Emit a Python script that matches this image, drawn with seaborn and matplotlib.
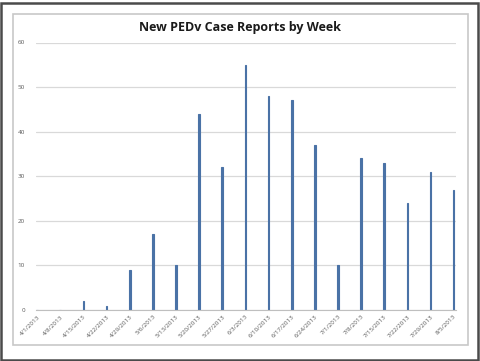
import matplotlib
matplotlib.use("Agg")
import matplotlib.pyplot as plt
from matplotlib.patches import Rectangle
import seaborn as sns
import pandas as pd

# Weekly case report data
weeks = ['4/1/2013', '4/8/2013', '4/15/2013', '4/22/2013', '4/29/2013', '5/6/2013',
         '5/13/2013', '5/20/2013', '5/27/2013', '6/3/2013', '6/10/2013', '6/17/2013',
         '6/24/2013', '7/1/2013', '7/8/2013', '7/15/2013', '7/22/2013', '7/29/2013',
         '8/5/2013']
cases = [0, 0, 2, 1, 9, 17, 10, 44, 32, 55, 48, 47, 37, 10, 34, 33, 24, 31, 27]
y_ticks = [0, 10, 20, 30, 40, 50, 60]

df = pd.DataFrame({'Week': weeks, 'Cases': cases})

sns.set_style("white")
plt.rcParams['font.family'] = ['Open Sans', 'DejaVu Sans']

W, H = 481, 361
fig = plt.figure(figsize=(W / 100, H / 100), dpi=100)

# outer dark frame and light chart border
fig.patches.append(Rectangle((1 / W, 1 / H), 477 / W, 357.5 / H, transform=fig.transFigure,
                             fill=False, edgecolor='#4a4a4a', linewidth=1.8))
fig.patches.append(Rectangle((13 / W, (H - 345) / H), 455 / W, 331 / H,
                             transform=fig.transFigure, fill=False,
                             edgecolor='#c8c8c8', linewidth=1.2))

ax = fig.add_axes([36 / W, (H - 310) / H, 420 / W, 267.5 / H])
sns.barplot(data=df, x='Week', y='Cases', color='#4a72a6', width=0.07,
            saturation=1, edgecolor='#4a72a6', linewidth=0.8, ax=ax)

ax.set_ylim(0, 60)
ax.set_xlim(-0.05, 18.1)
ax.set_yticks(y_ticks)
ax.yaxis.grid(True, color='#d9d9d9', linewidth=0.9)
ax.set_axisbelow(True)
for side in ['top', 'right', 'left']:
    ax.spines[side].set_visible(False)
ax.spines['bottom'].set_color('#bfbfbf')
ax.set_xlabel('')
ax.set_ylabel('')
ax.tick_params(axis='y', length=0, labelsize=4.5, labelcolor='#595959', pad=8)
ax.tick_params(axis='x', length=0, labelsize=4.5, labelcolor='#595959', pad=3)
plt.setp(ax.get_xticklabels(), rotation=45, ha='right', rotation_mode='anchor')

fig.text(240 / W, (H - 28) / H, 'New PEDv Case Reports by Week', ha='center',
         va='center', fontsize=9, fontweight='bold', color='#1a1a1a')

fig.savefig('out.png', dpi=100, facecolor='white')
